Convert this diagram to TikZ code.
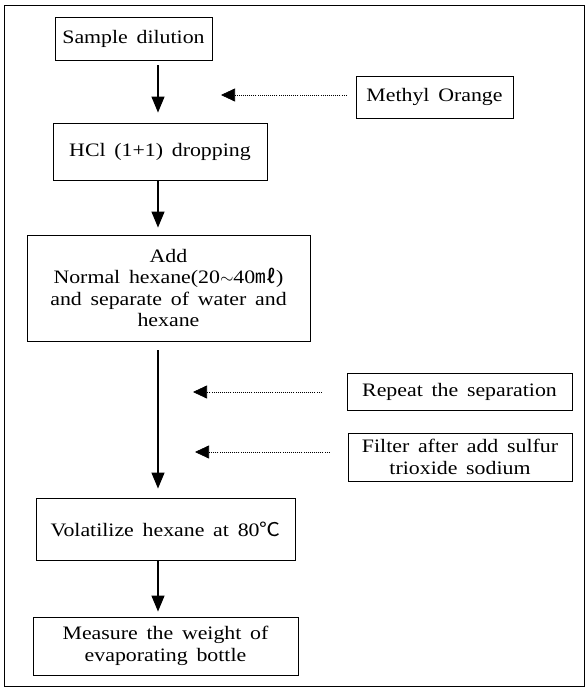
\documentclass[tikz,border=0pt]{standalone}
\usepackage{fontspec}
\setmainfont[WordSpace=1.6,FakeStretch=1.15]{Liberation Serif}
\newfontfamily\cjk[FakeStretch=1.1]{Noto Sans CJK SC}
\usetikzlibrary{arrows.meta}
\tikzset{
  box/.style={draw=black, line width=0.9pt, align=center, inner sep=0pt,
    font=\fontsize{19}{21.5}\selectfont},
  flow/.style={line width=1.3pt, -{Triangle[width=13pt,length=16pt]}},
  feed/.style={line width=0.7pt, dash pattern=on 0.8pt off 1.3pt,
    -{Triangle[width=13pt,length=14pt]}}
}
\begin{document}
\begin{tikzpicture}[x=1pt,y=1pt]
\useasboundingbox (0,0) rectangle (585,-688);
\draw[line width=0.7pt] (4,-5) rectangle (584,-686);
% main column
\node[box, minimum width=157, minimum height=43] (s) at (133.5,-38.5) {Sample dilution};
\node[box, minimum width=214, minimum height=57] (h) at (160,-151.5) {HCl (1+1) dropping};
\node[box, minimum width=283, minimum height=106] (a) at (168.5,-288)
  {Add\\Normal hexane(20{$\sim$}40{\cjk ㎖})\\and separate of water and\\hexane};
\node[box, minimum width=259, minimum height=62] (v) at (165.5,-529) {Volatilize hexane at 80{\cjk ℃}};
\node[box, minimum width=265, minimum height=58] (w) at (165.5,-646) {Measure the weight of\\evaporating bottle};
% side boxes
\node[box, minimum width=157, minimum height=42] (m) at (434.5,-97) {Methyl Orange};
\node[box, minimum width=225, minimum height=37] (r) at (459.5,-391.5) {Repeat the separation};
\node[box, minimum width=224, minimum height=48] (f) at (460,-457) {Filter after add sulfur\\trioxide sodium};
% column coordinate
\coordinate (ax) at (158,0);
\draw[flow, shorten <=5pt, shorten >=10pt] (s.south -| ax) -- (h.north -| ax);
\draw[flow, shorten <=1pt, shorten >=7pt] (h.south -| ax) -- (a.north -| ax);
\draw[flow, shorten <=9pt, shorten >=9pt] (a.south -| ax) -- (v.north -| ax);
\draw[flow, shorten >=5pt] (v.south -| ax) -- (w.north -| ax);
% feed arrows
\coordinate (t1) at (221,-95);
\coordinate (t2) at (193,-392);
\coordinate (t3) at (195,-452);
\draw[feed, shorten <=9pt] (t1 -| m.west) -- (t1);
\draw[feed, shorten <=25pt] (t2 -| r.west) -- (t2);
\draw[feed, shorten <=18pt] (t3 -| f.west) -- (t3);
\end{tikzpicture}
\end{document}
